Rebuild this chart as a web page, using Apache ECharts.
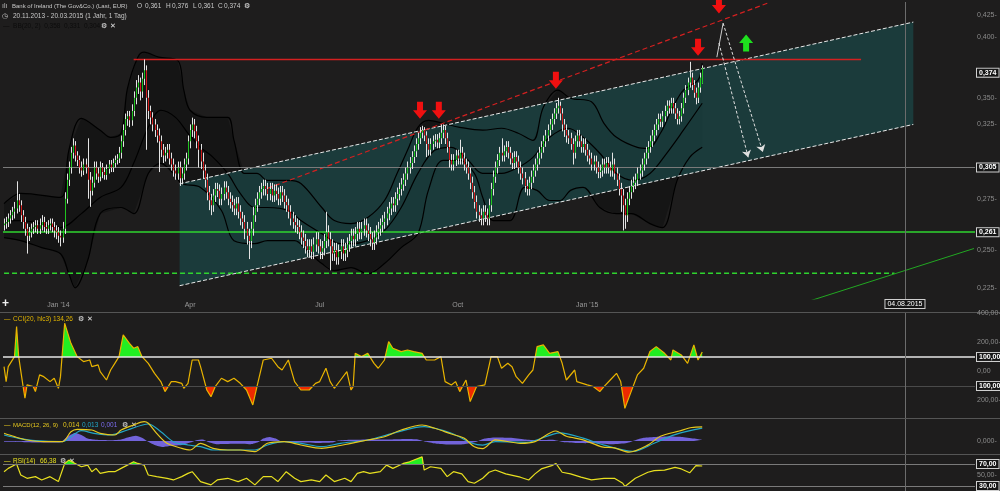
<!DOCTYPE html>
<html><head><meta charset="utf-8">
<script src="https://cdn.jsdelivr.net/npm/echarts@6/dist/echarts.min.js"></script>
<style>html,body{margin:0;padding:0;background:#1e1d1d;}#c{width:1000px;height:491px;}</style>
</head><body><div id="c"></div>
<script>
// ---------- categories (trading days) ----------
const firstDay = '2013-11-20';
const categoryCount = 465;
const holidays = ['2013-12-24','2013-12-25','2013-12-26','2013-12-31','2014-01-01','2014-04-18','2014-04-21','2014-05-01','2014-12-24','2014-12-25','2014-12-26','2014-12-31','2015-01-01'];
const quarterLabels = {'2014-01-02':"Jan '14",'2014-04-01':'Apr','2014-07-01':'Jul','2014-10-01':'Oct','2015-01-02':"Jan '15"};
const markerDate = '2015-08-04';
const markerText = '04.08.2015';

// ---------- price (daily OHLC, 20.11.2013 - 20.03.2015) ----------
const open = [
.264,.265,.266,.268,.270,.272,.274,.279,.276,.270, .266,.262,.258,.260,.262,.263,.264,.262,.264,.266,
.263,.262,.264,.265,.263,.261,.260,.258,.257,.262, .280,.292,.300,.310,.315,.308,.305,.300,.298,.302,
.300,.292,.285,.290,.300,.296,.294,.300,.297,.295, .299,.302,.300,.303,.305,.306,.310,.318,.326,.334,
.336,.333,.340,.350,.358,.362,.355,.365,.372,.350, .340,.335,.330,.326,.322,.318,.312,.308,.310,.312,
.306,.302,.298,.296,.300,.293,.296,.302,.306,.318, .326,.330,.325,.318,.312,.304,.298,.292,.284,.279,
.276,.282,.286,.285,.280,.283,.287,.284,.280,.278, .276,.274,.277,.272,.268,.266,.262,.258,.255,.262,
.270,.276,.280,.284,.286,.288,.286,.283,.286,.282, .285,.283,.280,.284,.282,.278,.276,.272,.268,.266,
.264,.263,.260,.257,.255,.252,.250,.252,.249,.253, .256,.252,.249,.251,.255,.260,.256,.252,.248,.250,
.246,.249,.252,.248,.250,.253,.255,.258,.256,.259, .262,.260,.262,.264,.261,.259,.256,.254,.257,.260,
.262,.264,.266,.268,.271,.274,.277,.276,.280,.283, .286,.289,.292,.296,.300,.303,.307,.311,.316,.320,
.324,.326,.322,.316,.312,.316,.318,.319,.317,.320, .324,.326,.320,.314,.305,.302,.305,.308,.306,.310,
.306,.302,.300,.296,.290,.284,.278,.272,.270,.268, .272,.270,.268,.276,.286,.294,.300,.305,.310,.308,
.311,.314,.310,.306,.303,.307,.304,.300,.296,.293, .288,.286,.290,.294,.298,.302,.306,.310,.314,.318,
.322,.326,.330,.334,.338,.342,.344,.338,.330,.326, .322,.320,.316,.310,.318,.322,.318,.314,.316,.312,
.308,.306,.302,.304,.300,.297,.298,.302,.300,.303, .300,.298,.302,.296,.292,.286,.282,.276,.270,.280,
.284,.288,.290,.292,.296,.298,.302,.306,.310,.314, .318,.322,.326,.330,.334,.332,.336,.340,.344,.342,
.346,.342,.338,.334,.336,.342,.350,.356,.362,.366, .360,.354,.350,.358,.361];
const high = [
.268,.269,.271,.273,.275,.278,.291,.283,.279,.273, .269,.265,.263,.265,.266,.267,.267,.268,.270,.269,
.266,.267,.268,.268,.266,.264,.263,.261,.266,.284, .296,.304,.314,.320,.318,.311,.308,.304,.306,.306,
.320,.297,.294,.304,.304,.300,.304,.303,.300,.302, .305,.305,.306,.308,.309,.314,.322,.330,.338,.340,
.340,.345,.355,.364,.368,.366,.370,.381,.376,.356, .344,.339,.334,.330,.327,.322,.316,.314,.316,.316,
.310,.306,.302,.304,.304,.300,.306,.310,.322,.330, .335,.334,.329,.322,.316,.310,.302,.296,.288,.283,
.286,.290,.290,.289,.287,.291,.291,.288,.284,.282, .280,.281,.281,.276,.272,.270,.266,.262,.266,.275,
.280,.284,.288,.290,.292,.292,.290,.290,.290,.289, .289,.287,.288,.288,.286,.282,.280,.276,.272,.270,
.268,.267,.264,.261,.259,.256,.256,.256,.257,.260, .260,.256,.255,.259,.272,.264,.260,.256,.254,.254,
.253,.256,.256,.254,.257,.259,.262,.262,.263,.266, .266,.266,.268,.268,.265,.263,.260,.261,.264,.266,
.268,.270,.272,.275,.278,.281,.281,.284,.287,.290, .293,.296,.300,.304,.307,.311,.315,.320,.324,.328,
.329,.328,.325,.320,.320,.322,.323,.323,.324,.330, .330,.329,.324,.318,.309,.309,.312,.312,.319,.314,
.310,.306,.304,.300,.294,.288,.282,.276,.274,.276, .276,.274,.280,.290,.298,.304,.309,.314,.320,.315,
.318,.318,.314,.310,.311,.311,.308,.304,.300,.297, .292,.294,.298,.302,.306,.310,.314,.318,.322,.326,
.330,.334,.338,.342,.346,.350,.347,.342,.334,.330, .326,.324,.320,.322,.326,.326,.322,.320,.320,.316,
.312,.310,.308,.308,.304,.302,.306,.306,.307,.307, .304,.310,.306,.300,.296,.290,.286,.280,.284,.288,
.292,.294,.296,.300,.302,.306,.310,.314,.318,.322, .326,.330,.334,.338,.338,.340,.344,.348,.348,.350,
.350,.346,.342,.340,.346,.354,.360,.366,.379,.370, .364,.358,.362,.370,.376];
const low = [
.261,.262,.263,.265,.267,.268,.271,.272,.266,.262, .258,.248,.255,.257,.259,.260,.259,.259,.261,.260,
.259,.259,.261,.260,.257,.256,.254,.252,.254,.259, .277,.288,.296,.306,.304,.301,.296,.294,.295,.296,
.280,.275,.282,.287,.292,.290,.291,.293,.292,.292, .296,.297,.297,.300,.302,.303,.306,.314,.322,.329,
.328,.329,.336,.345,.353,.348,.350,.360,.312,.334, .330,.325,.321,.317,.297,.307,.303,.304,.306,.302,
.298,.294,.292,.292,.288,.289,.292,.298,.302,.313, .321,.320,.313,.300,.299,.293,.287,.279,.273,.270,
.272,.278,.281,.276,.276,.279,.280,.276,.274,.272, .270,.270,.268,.264,.262,.256,.253,.245,.251,.258,
.266,.272,.276,.280,.282,.282,.279,.279,.278,.278, .279,.276,.276,.278,.274,.272,.268,.264,.262,.260,
.259,.256,.253,.251,.248,.246,.246,.245,.245,.249, .248,.245,.245,.247,.251,.252,.239,.244,.244,.242,
.242,.245,.244,.244,.246,.249,.251,.252,.252,.255, .256,.256,.258,.257,.255,.252,.250,.250,.253,.256,
.258,.260,.262,.264,.267,.270,.272,.272,.276,.279, .282,.285,.288,.292,.296,.299,.303,.307,.312,.316,
.320,.318,.307,.308,.308,.312,.314,.313,.313,.316, .320,.316,.310,.300,.298,.298,.301,.302,.302,.302,
.298,.296,.292,.286,.280,.274,.268,.266,.264,.264, .266,.264,.264,.272,.282,.290,.296,.301,.304,.304,
.307,.306,.302,.299,.299,.300,.296,.292,.289,.284, .282,.282,.286,.290,.294,.298,.302,.306,.310,.314,
.318,.322,.326,.330,.334,.338,.333,.325,.321,.317, .316,.312,.302,.306,.314,.314,.310,.310,.308,.304,
.302,.298,.298,.296,.293,.293,.294,.296,.296,.296, .294,.294,.292,.288,.282,.272,.261,.262,.266,.276,
.280,.284,.286,.288,.292,.294,.298,.302,.306,.310, .314,.318,.322,.326,.328,.328,.332,.336,.338,.338,
.338,.334,.330,.330,.332,.338,.346,.352,.358,.356, .350,.345,.346,.354,.361];
const close = [
.265,.266,.268,.270,.272,.274,.279,.276,.270,.266, .262,.258,.260,.262,.263,.264,.262,.264,.266,.263,
.262,.264,.265,.263,.261,.260,.258,.257,.262,.280, .292,.300,.310,.315,.308,.305,.300,.298,.302,.300,
.292,.285,.290,.300,.296,.294,.300,.297,.295,.299, .302,.300,.303,.305,.306,.310,.318,.326,.334,.336,
.333,.340,.350,.358,.362,.355,.365,.372,.350,.340, .335,.330,.326,.322,.318,.312,.308,.310,.312,.306,
.302,.298,.296,.300,.293,.296,.302,.306,.318,.326, .330,.325,.318,.312,.304,.298,.292,.284,.279,.276,
.282,.286,.285,.280,.283,.287,.284,.280,.278,.276, .274,.277,.272,.268,.266,.262,.258,.255,.262,.270,
.276,.280,.284,.286,.288,.286,.283,.286,.282,.285, .283,.280,.284,.282,.278,.276,.272,.268,.266,.264,
.263,.260,.257,.255,.252,.250,.252,.249,.253,.256, .252,.249,.251,.255,.260,.256,.252,.248,.250,.246,
.249,.252,.248,.250,.253,.255,.258,.256,.259,.262, .260,.262,.264,.261,.259,.256,.254,.257,.260,.262,
.264,.266,.268,.271,.274,.277,.276,.280,.283,.286, .289,.292,.296,.300,.303,.307,.311,.316,.320,.324,
.326,.322,.316,.312,.316,.318,.319,.317,.320,.324, .326,.320,.314,.305,.302,.305,.308,.306,.310,.306,
.302,.300,.296,.290,.284,.278,.272,.270,.268,.272, .270,.268,.276,.286,.294,.300,.305,.310,.308,.311,
.314,.310,.306,.303,.307,.304,.300,.296,.293,.288, .286,.290,.294,.298,.302,.306,.310,.314,.318,.322,
.326,.330,.334,.338,.342,.344,.338,.330,.326,.322, .320,.316,.310,.318,.322,.318,.314,.316,.312,.308,
.306,.302,.304,.300,.297,.298,.302,.300,.303,.300, .298,.302,.296,.292,.286,.282,.276,.270,.280,.284,
.288,.290,.292,.296,.298,.302,.306,.310,.314,.318, .322,.326,.330,.334,.332,.336,.340,.344,.342,.346,
.342,.338,.334,.336,.342,.350,.356,.362,.366,.360, .354,.350,.358,.366,.374];

// ---------- Bollinger bands ----------
const bbUpperIdx = [0,8,27,31,37,46,51,56,59,64,67,74,83,86,89,97,107,110,115,121,126,136,142,152,158,166,174,182,188,193,198,203,210,218,229,238,246,253,258,265,271,281,287,293,303,308,314,320,325,332,334];
const bbUpper = [.277,.2833,.2808,.3116,.3345,.3258,.3207,.3236,.357,.3829,.3872,.3829,.3804,.356,.3405,.3352,.3352,.3186,.2961,.2961,.2916,.2916,.2896,.2746,.2668,.265,.2686,.2789,.2961,.3116,.3279,.333,.3308,.3279,.3258,.3272,.3236,.3186,.3428,.356,.3497,.347,.3308,.3207,.3137,.313,.3236,.3428,.356,.3639,.3779];
const bbMidIdx = [0,8,18,27,37,46,56,62,69,75,82,88,94,100,107,113,120,126,136,142,152,161,166,174,182,190,198,206,214,222,229,238,246,253,261,270,277,285,293,301,309,317,325,334];
const bbMid = [.2668,.2668,.265,.2627,.2709,.2808,.2871,.3028,.3279,.3405,.3352,.3236,.3137,.3068,.2961,.2833,.2746,.2746,.2728,.2668,.2592,.2535,.2535,.2552,.2609,.2746,.2961,.3116,.3137,.3048,.2961,.2961,.3001,.3068,.3207,.3272,.3207,.3096,.2961,.2916,.2961,.3096,.3258,.3458];
const bbLowIdx = [0,8,18,27,31,34,40,46,56,62,69,75,81,85,94,104,110,120,126,139,145,152,158,166,174,182,190,198,203,210,218,225,229,234,242,249,255,261,266,271,277,285,293,300,309,315,322,328,334];
const bbLow = [.2569,.2552,.2513,.2479,.2372,.2299,.2442,.2709,.2746,.2709,.2961,.3028,.2961,.2896,.2871,.2728,.2552,.2535,.2552,.2552,.2496,.2426,.2388,.2404,.2372,.2426,.2513,.2592,.2852,.3048,.3048,.2961,.2808,.2668,.2668,.2871,.2852,.2789,.2789,.2852,.2871,.2746,.2709,.2709,.265,.2627,.2916,.3068,.3137];

// ---------- drawn objects ----------
const channelIdx = [84, 435];
const channelUpper = [0.2894, 0.4138];
const channelLower = [0.2310, 0.3300];
const resistanceRed = {idx:[62, 410], val:[0.381, 0.381]};
const trendRedDashed = {idx:[126, 366], val:[0.2865, 0.432]};
const supportGreenDashed = {idx:[0, 426], val:[0.2375, 0.2375]};
const trendGreen = {idx:[369, 464], val:[0.218, 0.2508]};
const redArrows = [[199,0.3405],[208,0.3405],[264,0.3639],[332,0.3915],[342,0.4297]];
const greenArrows = [[355,0.395]];
const priceTicks = [0.425,0.400,0.350,0.325,0.300,0.275,0.250,0.225];
const priceBadges = [0.374, 0.305, 0.261];

// ---------- CCI(20, hlc3) ----------
const cciIdx = [0,1,2,5,6,7,9,10,11,14, 15,17,19,22,24,26,27,29,32,35, 38,41,42,45,46,49,51,53,55,57, 60,62,64,66,69,72,75,77,80,82,
85,86,88,90,93,94,97,99,101,104, 107,110,113,116,119,121,124,128,131,133, 136,139,142,146,149,151,154,156,158,161,
164,166,167,168,171,174,177,179,182,184, 186,190,193,196,200,202,206,209,211,214, 216,218,221,223,226,230,233,236,238,241,
243,245,248,251,253,255,258,261,265,267, 269,273,274,279,282,285,287,290,293,295, 297,300,303,306,309,312,316,319,320,324, 327,330,332,334];
const cci = [33,-70,33,102,309,102,-93,-185,-93,-105, -139,-24,-36,-70,-47,-116,-36,332,194,102, 68,79,33,45,-1,-59,10,56,102,252, 194,160,171,102,56,-13,-70,-139,-70,-70,
-82,-116,-82,79,79,33,-128,-174,-105,-47, -70,-47,-82,-128,-231,-105,79,91,33,10, 79,-70,-128,-128,-82,-70,22,-70,-116,-59,
-1,-128,-105,125,102,125,56,22,79,206, 160,137,148,137,125,79,79,102,-70,-93, -70,-139,-59,-208,-105,-93,102,102,22,56,
33,-36,-82,-24,10,171,183,125,137,56, -59,10,-70,-93,-105,-139,-105,-59,-13,-70, -254,-139,-24,22,137,171,125,79,148,114, 56,183,79,134.26];
const cciTicks = [[400,'400,00-'],[200,'200,00-'],[0,'0,00'],[-200,'200,00-']];
const cciBadges = [[100,'100,00'],[-100,'100,00']];

// ---------- MACD(12, 26, 9) ----------
const macdIdx = [0,5,11,19,28,32,35,42,46,53, 56,62,67,69,73,78,85,89,94,100, 107,113,120,126,134,142,152,158,166,174, 182,190,200,206,214,220,225,229,235,247, 254,264,269,277,286,292,299,308,314,323, 329,334];
const macd = [.0077,.0043,.001,-.0007,-.0007,.0093,.0117,.011,.0077,.006, .011,.016,.0193,.0177,.0077,-.0023,-.0073,-.009,-.0023,-.0073, -.009,-.009,-.0107,-.0023,-.0007,-.004,-.0073,-.0057,-.0023,.001, .0043,.011,.016,.0127,.007,.0029,-.0058,-.0076,.0012,-.0023, -.0006,.01,.0047,.0012,-.0058,-.0069,-.0111,-.0041,.0047,.01, .0135,.0142];
const signalIdx = [0,7,15,28,37,43,51,59,69,75, 81,88,94,100,110,120,126,134,142,152, 161,174,186,201,214,224,229,235,250,266, 277,287,301,311,321,334];
const signal = [.006,.0027,.0003,-.0007,.0103,.0077,.006,.011,.017,.0093, -.0007,-.004,-.0057,-.009,-.009,-.009,-.004,-.0007,-.0023,-.0057, -.0023,.001,.0077,.0143,.0077,-.0023,-.0041,-.0006,-.0013,.0082, .0029,-.0041,-.0104,-.0023,.0064,.0128];
const histIdx = [0,10,20,27,29,31,34,37,40,44, 50,56,60,63,66,69,72,76,80,85, 89,92,95,98,102,110,118,122,124,127, 130,133,140,150,157,160,166,175,185,192, 198,202,207,214,220,226,230,235,242,249, 255,262,268,275,284,291,298,302,306,312, 318,324,330,334];
const hist = [-.0002,-.0003,-.0004,-.0003,.0005,.0013,.002,.0015,.0006,.0003, .0002,.0004,.001,.0013,.0008,-.0002,-.001,-.0015,-.0012,-.001, -.0004,.0002,.0004,-.0003,-.0008,-.0007,-.0008,-.0002,.0006,.001, .0006,-.0002,-.0004,-.0005,-.0004,.0001,.0003,.0004,.0004,.0005, .0004,-.0002,-.0007,-.0009,-.0008,-.0002,.0006,.0009,.0008,.0004, .0002,.0003,-.0003,-.0005,-.0006,-.0008,-.0005,.0002,.0008,.001, .0011,.001,.0006,.0003];

// ---------- RSI(14) ----------
const rsiIdx = [0,2,6,8,11,15,18,22,26,29, 31,34,37,40,42,44,46,50,53,56, 59,62,64,67,69,73,78,81,85,88, 90,94,99,102,107,112,116,120,124,128, 131,135,139,142,147,151,154,158,163,166, 169,172,175,180,183,186,191,194,200,201, 204,209,212,215,219,222,225,229,232,235, 240,247,251,254,257,262,264,267,271,276, 281,287,292,296,297,302,308,311,316,321, 324,328,331,334];
const rsi = [56,62,70,50,44,47,41,47,38,71, 77,71,65,68,56,62,53,56,56,62, 68,74,71,68,50,47,44,41,47,53, 56,38,32,41,44,38,44,32,47,47, 38,56,44,38,41,38,50,38,44,38, 53,56,53,56,68,62,71,74,83,59, 65,62,47,56,52,38,35,44,55,59, 52,46,41,52,61,67,71,55,52,46, 41,44,44,35,29,44,55,58,59,64, 61,54,67,66.38];

// ---------- build ----------
const dates = [];
{
  const d = new Date(firstDay + 'T00:00:00Z');
  while (dates.length < categoryCount) {
    const s = d.toISOString().slice(0, 10), wd = d.getUTCDay();
    if (wd !== 0 && wd !== 6 && holidays.indexOf(s) < 0) dates.push(s);
    d.setUTCDate(d.getUTCDate() + 1);
  }
}
const FONT = 'Liberation Sans, Arial, sans-serif';
const pairs = (idx, vals) => idx.map((i, k) => [i, vals[k]]);
const ohlc = close.map((c, k) => [k, open[k], c, low[k], high[k]]);

function renderCandle(params, api) {
  const i = api.value(0), o = api.value(1), c = api.value(2), l = api.value(3), h = api.value(4);
  const pO = api.coord([i, o]), pC = api.coord([i, c]), pL = api.coord([i, l]), pH = api.coord([i, h]);
  const x = Math.round(pO[0]) + 0.5;
  const top = Math.min(pO[1], pC[1]), bot = Math.max(pO[1], pC[1]);
  return {type: 'group', children: [
    {type: 'line', shape: {x1: x, y1: pH[1], x2: x, y2: pL[1]}, style: {stroke: '#e4e4e4', lineWidth: 1}},
    {type: 'rect', shape: {x: x - 0.5, y: top, width: 1, height: Math.max(bot - top, 1)}, style: {fill: c >= o ? '#1fc41f' : '#d21c1c'}}
  ]};
}
function fillSeries(xi, yi, idx, vals, thr, above, color) {
  return {type: 'custom', xAxisIndex: xi, yAxisIndex: yi, z: 2, silent: true, clip: true, data: [[0, thr]],
    renderItem: (p, api) => {
      const yT = api.coord([0, thr])[1];
      const isIn = v => above ? v > thr : v < thr;
      const polys = []; let cur = null;
      for (let k = 0; k < idx.length; k++) {
        const v = vals[k], pt = api.coord([idx[k], v]);
        if (k > 0) {
          const v0 = vals[k - 1];
          if (isIn(v) !== isIn(v0)) {
            const p0 = api.coord([idx[k - 1], v0]);
            const t = (thr - v0) / (v - v0);
            const cx = p0[0] + t * (pt[0] - p0[0]);
            if (cur) { cur.push([cx, yT]); polys.push(cur); cur = null; }
            else cur = [[cx, yT]];
          }
        }
        if (isIn(v)) { if (!cur) cur = [[pt[0], yT]]; cur.push(pt); }
      }
      if (cur) { cur.push([cur[cur.length - 1][0], yT]); polys.push(cur); }
      return {type: 'group', children: polys.map(pp => ({type: 'polygon', shape: {points: pp}, style: {fill: color}}))};
    }};
}
const HIDDEN_LINE = {color: 'rgba(0,0,0,0)', width: 0, type: 'solid'};
const lblBase = {position: 'end', distance: 2, fontSize: 7, fontFamily: FONT};
const tickItem = (v, text) => ({yAxis: v, lineStyle: HIDDEN_LINE, label: {show: true, formatter: text, color: '#8c8c8c'}});
const badgeItem = (v, text, line) => ({yAxis: v,
  lineStyle: line ? Object.assign({type: 'solid'}, line) : HIDDEN_LINE,
  label: {show: true, formatter: text, color: '#ffffff', fontWeight: 'bold', backgroundColor: '#161616', borderColor: '#d0d0d0', borderWidth: 1, padding: [1, 2, 0, 2]}});
const vMarker = (withLabel) => ({xAxis: markerDate, lineStyle: {color: '#6c6c6c', width: 1, type: 'solid'},
  label: withLabel ? {show: true, position: 'start', formatter: markerText, color: '#fff', fontSize: 7, backgroundColor: '#161616', borderColor: '#cfcfcf', borderWidth: 1, padding: [1, 2, 0, 2], distance: 1} : {show: false}});
const mk = (data) => ({silent: true, symbol: ['none', 'none'], animation: false, label: lblBase, data});
const fmtPrice = v => v.toFixed(3).replace('.', ',');

const hiddenAxis = {axisLine: {show: false}, axisTick: {show: false}, axisLabel: {show: false}, splitLine: {show: false}};
const txt = (x, y, text, fill, extra) => ({type: 'text', silent: true, x, y, style: Object.assign({text, fill, fontSize: 6.5, fontFamily: FONT, verticalAlign: 'middle'}, extra || {})});
const icon = (x, y, ch) => txt(x, y, ch, '#e6e6e6', {fontSize: 7, fontWeight: 'bold', fontFamily: 'DejaVu Sans'});

const option = {
  backgroundColor: '#1e1d1d',
  animation: false,
  textStyle: {fontFamily: FONT},
  grid: [
    {left: 3, right: 25, top: 2, height: 297, outerBoundsMode: 'none'},
    {left: 3, right: 25, top: 313, height: 105, outerBoundsMode: 'none'},
    {left: 3, right: 25, top: 419, height: 35, outerBoundsMode: 'none'},
    {left: 3, right: 25, top: 455, height: 36, outerBoundsMode: 'none'}
  ],
  xAxis: [0, 1, 2, 3].map(g => Object.assign({type: 'category', gridIndex: g, data: dates, boundaryGap: true}, hiddenAxis,
    g === 0 ? {axisLabel: {show: true, color: '#9a9a9a', fontSize: 7, margin: 3, interval: (i, v) => quarterLabels[v] !== undefined, formatter: v => quarterLabels[v] || ''}} : {})),
  yAxis: [
    Object.assign({type: 'log', gridIndex: 0, min: 0.2243, max: 0.4326, position: 'right'}, hiddenAxis),
    Object.assign({type: 'value', gridIndex: 1, min: -321, max: 403, position: 'right'}, hiddenAxis),
    Object.assign({type: 'value', gridIndex: 2, min: -0.013, max: 0.022, position: 'right'}, hiddenAxis),
    Object.assign({type: 'value', gridIndex: 2, min: -0.00325, max: 0.0055, position: 'right'}, hiddenAxis),
    Object.assign({type: 'value', gridIndex: 3, min: 20.9, max: 86.36, position: 'right'}, hiddenAxis)
  ],
  series: [
    {type: 'custom', xAxisIndex: 0, yAxisIndex: 0, z: 1, silent: true, clip: true, data: [[0, 0.3]],
      renderItem: (p, api) => {
        const pts = bbUpperIdx.map((i, k) => api.coord([i, bbUpper[k]]));
        for (let k = bbLowIdx.length - 1; k >= 0; k--) pts.push(api.coord([bbLowIdx[k], bbLow[k]]));
        return {type: 'polygon', shape: {points: pts}, style: {fill: '#151515'}};
      }},
    {type: 'custom', xAxisIndex: 0, yAxisIndex: 0, z: 2, silent: true, clip: true, data: [[0, 0.3]],
      renderItem: (p, api) => ({type: 'polygon', shape: {points: [
        api.coord([channelIdx[0], channelUpper[0]]), api.coord([channelIdx[1], channelUpper[1]]),
        api.coord([channelIdx[1], channelLower[1]]), api.coord([channelIdx[0], channelLower[0]])]},
        style: {fill: 'rgba(27,66,66,0.82)'}})},
    {type: 'line', xAxisIndex: 0, yAxisIndex: 0, z: 3, data: pairs(bbUpperIdx, bbUpper), smooth: 0.35, symbol: 'none', lineStyle: {color: '#000', width: 1.2}},
    {type: 'line', xAxisIndex: 0, yAxisIndex: 0, z: 3, data: pairs(bbLowIdx, bbLow), smooth: 0.35, symbol: 'none', lineStyle: {color: '#000', width: 1.2}},
    {type: 'line', xAxisIndex: 0, yAxisIndex: 0, z: 3, data: pairs(bbMidIdx, bbMid), smooth: 0.35, symbol: 'none', lineStyle: {color: '#000', width: 1.2},
      markLine: mk([].concat(
        priceTicks.map(v => tickItem(v, fmtPrice(v) + '-')),
        [badgeItem(priceBadges[0], fmtPrice(priceBadges[0]), null),
         badgeItem(priceBadges[1], fmtPrice(priceBadges[1]), {color: '#7a7a7a', width: 1}),
         badgeItem(priceBadges[2], fmtPrice(priceBadges[2]), {color: '#2fd42f', width: 1.5}),
         vMarker(true)]))},
    {type: 'line', xAxisIndex: 0, yAxisIndex: 0, z: 4, data: pairs(channelIdx, channelUpper), symbol: 'none', lineStyle: {color: '#e8e8e8', width: 1, type: [4, 2]}},
    {type: 'line', xAxisIndex: 0, yAxisIndex: 0, z: 4, data: pairs(channelIdx, channelLower), symbol: 'none', lineStyle: {color: '#e8e8e8', width: 1, type: [4, 2]},
      markLine: {silent: true, animation: false, symbol: ['none', 'arrow'], symbolSize: 7, label: {show: false},
        data: [
          [{coord: [341, 0.3829], symbol: 'none', lineStyle: {color: '#cfcfcf', width: 1, type: 'solid'}}, {coord: [344, 0.4128], symbol: 'none'}],
          [{coord: [344, 0.4128], lineStyle: {color: '#e0e0e0', width: 1, type: [3, 2]}}, {coord: [363, 0.3104]}],
          [{coord: [342, 0.3951], lineStyle: {color: '#e0e0e0', width: 1, type: [3, 2]}}, {coord: [356, 0.3068]}]
        ]}},
    {type: 'line', xAxisIndex: 0, yAxisIndex: 0, z: 4, data: pairs(resistanceRed.idx, resistanceRed.val), symbol: 'none', lineStyle: {color: '#d42020', width: 1.5}},
    {type: 'line', xAxisIndex: 0, yAxisIndex: 0, z: 4, data: pairs(trendRedDashed.idx, trendRedDashed.val), symbol: 'none', lineStyle: {color: '#d42020', width: 1.2, type: [5, 3]}},
    {type: 'line', xAxisIndex: 0, yAxisIndex: 0, z: 4, data: pairs(supportGreenDashed.idx, supportGreenDashed.val), symbol: 'none', lineStyle: {color: '#2fd42f', width: 1.5, type: [5, 3]}},
    {type: 'line', xAxisIndex: 0, yAxisIndex: 0, z: 4, data: pairs(trendGreen.idx, trendGreen.val), symbol: 'none', clip: true, lineStyle: {color: '#22a822', width: 1}},
    {type: 'custom', xAxisIndex: 0, yAxisIndex: 0, z: 5, clip: true, renderItem: renderCandle, data: ohlc, encode: {x: 0, y: [1, 2, 3, 4]}},
    {type: 'scatter', xAxisIndex: 0, yAxisIndex: 0, z: 6, silent: true, data: redArrows,
      symbol: 'path://M4,0 L10,0 L10,8 L14,8 L7,16 L0,8 L4,8 Z', symbolSize: [14, 17], itemStyle: {color: '#f01010', opacity: 1}},
    {type: 'scatter', xAxisIndex: 0, yAxisIndex: 0, z: 6, silent: true, data: greenArrows,
      symbol: 'path://M7,0 L14,8 L10,8 L10,16 L4,16 L4,8 L0,8 Z', symbolSize: [14, 17], itemStyle: {color: '#1ee01e', opacity: 1}},

    fillSeries(1, 1, cciIdx, cci, 100, true, '#22ee22'),
    fillSeries(1, 1, cciIdx, cci, -100, false, '#ee2a00'),
    {type: 'line', xAxisIndex: 1, yAxisIndex: 1, z: 3, data: pairs(cciIdx, cci), symbol: 'none', lineStyle: {color: '#e9b400', width: 1.2},
      markLine: mk([].concat(
        cciTicks.map(t => tickItem(t[0], t[1])),
        [badgeItem(cciBadges[0][0], cciBadges[0][1], {color: '#e6e6e6', width: 1.5}),
         badgeItem(cciBadges[1][0], cciBadges[1][1], {color: '#4a4a4a', width: 1}),
         vMarker(false)]))},

    {type: 'line', xAxisIndex: 2, yAxisIndex: 3, z: 2, data: pairs(histIdx, hist), symbol: 'none', smooth: 0.2, lineStyle: {width: 0}, areaStyle: {color: '#7b6cf0', opacity: 0.9}},
    {type: 'line', xAxisIndex: 2, yAxisIndex: 2, z: 3, data: pairs(signalIdx, signal), symbol: 'none', smooth: 0.3, lineStyle: {color: '#22a8c8', width: 1.2}},
    {type: 'line', xAxisIndex: 2, yAxisIndex: 2, z: 4, data: pairs(macdIdx, macd), symbol: 'none', smooth: 0.3, lineStyle: {color: '#e6c81e', width: 1.2},
      markLine: mk([tickItem(0, '0,000-'), vMarker(false)])},

    fillSeries(3, 4, rsiIdx, rsi, 70, true, '#22ee22'),
    {type: 'line', xAxisIndex: 3, yAxisIndex: 4, z: 3, data: pairs(rsiIdx, rsi), symbol: 'none', lineStyle: {color: '#e8e020', width: 1.2},
      markLine: mk([tickItem(50, '50,00-'),
        badgeItem(70, '70,00', {color: '#7a7a7a', width: 1}),
        badgeItem(30, '30,00', {color: '#7a7a7a', width: 1}),
        vMarker(false)])}
  ],
  graphic: [
    {type: 'line', silent: true, shape: {x1: 0, y1: 312.5, x2: 1000, y2: 312.5}, style: {stroke: '#555', lineWidth: 1}},
    {type: 'line', silent: true, shape: {x1: 0, y1: 418.5, x2: 1000, y2: 418.5}, style: {stroke: '#555', lineWidth: 1}},
    {type: 'line', silent: true, shape: {x1: 0, y1: 454.5, x2: 1000, y2: 454.5}, style: {stroke: '#555', lineWidth: 1}},
    txt(2, 6, 'ılı', '#bbb', {fontSize: 7}),
    txt(12, 6, 'Bank of Ireland (The Gov&Co.) (Last, EUR)', '#c8c8c8', {fontSize: 6}),
    txt(137, 6, 'O', '#c8c8c8'), txt(145, 6, '0,361', '#c8c8c8'),
    txt(166, 6, 'H', '#c8c8c8'), txt(172, 6, '0,376', '#c8c8c8'),
    txt(193, 6, 'L', '#c8c8c8'), txt(198, 6, '0,361', '#c8c8c8'),
    txt(218, 6, 'C', '#c8c8c8'), txt(224, 6, '0,374', '#c8c8c8'),
    icon(244, 6, '⚙'),
    txt(2, 16, '◷', '#ccc', {fontSize: 7, fontFamily: 'DejaVu Sans'}),
    txt(13, 16, '20.11.2013 - 20.03.2015 (1 Jahr, 1 Tag)', '#c8c8c8'),
    txt(3, 26, '—  BB(20, 2)  0,358  0,331  0,304', '#0c0c0c'),
    icon(101, 26, '⚙'), icon(110, 26, '✕'),
    txt(2, 304, '+', '#f0f0f0', {fontSize: 12, fontWeight: 'bold'}),
    txt(4, 319, '—', '#e0b400'), txt(13, 319, 'CCI(20, hlc3)', '#e0b400'), txt(53, 319, '134,26', '#e0b400'),
    icon(78, 319, '⚙'), icon(87, 319, '✕'),
    txt(4, 425, '—', '#e6c81e'), txt(13, 425, 'MACD(12, 26, 9)', '#e6c81e', {fontSize: 6}), txt(63, 425, '0,014', '#e6c81e'),
    txt(82, 425, '0,013', '#22a8c8'), txt(101, 425, '0,001', '#7b6cf0'),
    icon(122, 425, '⚙'), icon(131, 425, '✕'),
    txt(4, 461, '—', '#e8e020'), txt(13, 461, 'RSI(14)', '#e8e020'), txt(40, 461, '66,38', '#e8e020'),
    icon(60, 461, '⚙'), icon(69, 461, '✕')
  ]
};
const chart = echarts.init(document.getElementById('c'), null, {renderer: 'canvas'});
chart.setOption(option);
</script>
</body></html>
